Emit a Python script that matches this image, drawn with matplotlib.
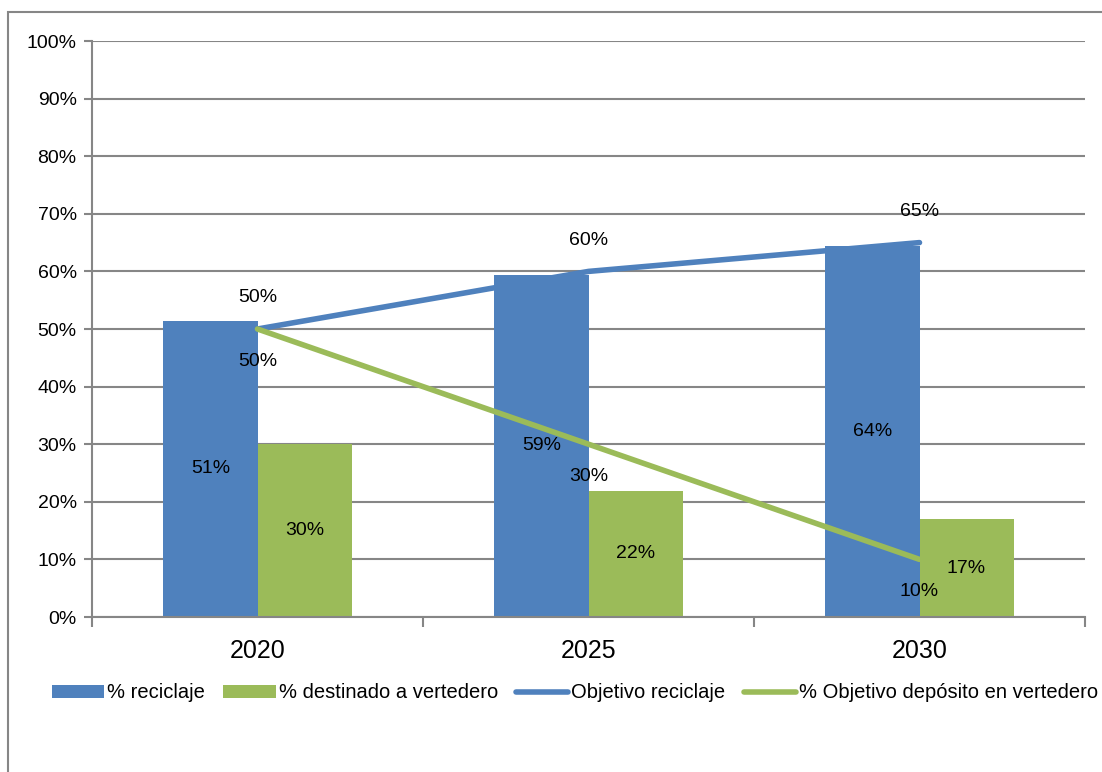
import matplotlib.pyplot as plt
from matplotlib.patches import Rectangle
import numpy as np

plt.rcParams['font.family'] = ['Liberation Sans', 'DejaVu Sans']

# data
years = ['2020', '2025', '2030']
reciclaje = [51.4, 59.4, 64.4]
vertedero = [30.0, 21.9, 17.0]
obj_reciclaje = [50, 60, 65]
obj_vertedero = [50, 30, 10]
reciclaje_labels = ['51%', '59%', '64%']
vertedero_labels = ['30%', '22%', '17%']
y_ticks = list(range(0, 101, 10))

blue = '#4F81BD'
green = '#9BBB59'
gray = '#868686'

fig = plt.figure(figsize=(11.02, 7.72), dpi=100)
ax = fig.add_axes([92 / 1102, 1 - 617 / 772, (1085 - 92) / 1102, (617 - 41) / 772])

# outer chart frame (cut off on right/bottom)
fig.patches.append(Rectangle((8 / 1102, -0.5), 2, 1 - 12 / 772 + 0.5,
                             transform=fig.transFigure, fill=False,
                             edgecolor=gray, linewidth=1.5, clip_on=False))

x = np.arange(len(years))
w = 0.284
b1 = ax.bar(x - w / 2, reciclaje, w, color=blue, label='% reciclaje', zorder=2)
b2 = ax.bar(x + w / 2, vertedero, w, color=green, label='% destinado a vertedero', zorder=2)
l1, = ax.plot(x, obj_reciclaje, color=blue, lw=4, solid_capstyle='round',
              label='Objetivo reciclaje', zorder=3)
l2, = ax.plot(x, obj_vertedero, color=green, lw=4, solid_capstyle='round',
              label='% Objetivo depósito en vertedero', zorder=3)

fs = 14

# bar labels (centered)
for xi, v, t in zip(x - w / 2, reciclaje, reciclaje_labels):
    ax.text(xi, v / 2, t, ha='center', va='center', fontsize=fs, zorder=4)
for xi, v, t in zip(x + w / 2, vertedero, vertedero_labels):
    ax.text(xi, v / 2, t, ha='center', va='center', fontsize=fs, zorder=4)

# line labels
for xi, v in zip(x, obj_reciclaje):
    ax.annotate(f'{v}%', (xi, v), xytext=(0, 31), textcoords='offset pixels',
                ha='center', va='center', fontsize=fs, zorder=4)
for xi, v in zip(x, obj_vertedero):
    ax.annotate(f'{v}%', (xi, v), xytext=(0, -32), textcoords='offset pixels',
                ha='center', va='center', fontsize=fs, zorder=4)

ax.set_xlim(-0.5, 2.5)
ax.set_ylim(0, 100)
ax.set_yticks(y_ticks)
ax.set_yticklabels([f'{t}%' for t in y_ticks], fontsize=fs)
ax.set_xticks(x)
ax.set_xticklabels(years, fontsize=18)
ax.set_xticks([-0.5, 0.5, 1.5, 2.5], minor=True)
ax.tick_params(axis='x', which='major', length=0, pad=16)
ax.tick_params(axis='x', which='minor', length=7, width=1.5, color=gray)
ax.tick_params(axis='y', length=6, width=1.5, color=gray, pad=5)

ax.grid(axis='y', color=gray, linewidth=1.5, zorder=0)
ax.set_axisbelow(True)
for s in ['top', 'right']:
    ax.spines[s].set_visible(False)
for s in ['left', 'bottom']:
    ax.spines[s].set_color(gray)
    ax.spines[s].set_linewidth(1.5)

fig.legend(handles=[b1, b2, l1, l2], loc='center', ncol=4, frameon=False,
           bbox_to_anchor=(575 / 1102, 1 - 693 / 772), fontsize=14.5,
           handlelength=2.6, handleheight=0.6, handletextpad=0.15,
           columnspacing=0.9)

fig.savefig('out.png', dpi=100)
